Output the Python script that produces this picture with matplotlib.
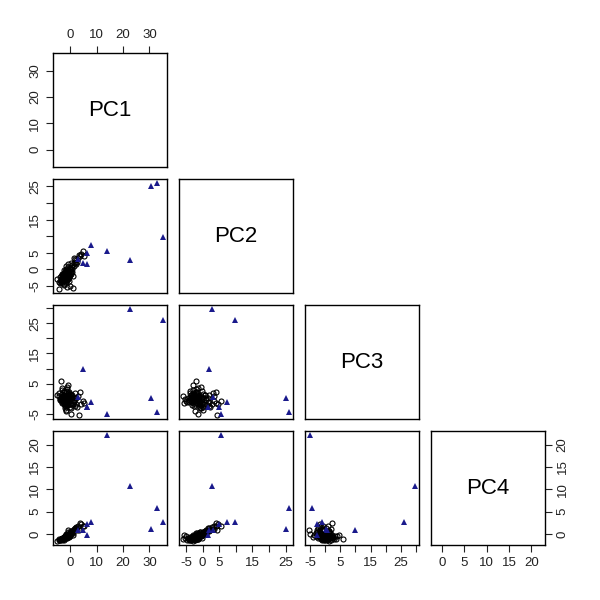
import numpy as np
import matplotlib
matplotlib.use('Agg')
import matplotlib.pyplot as plt

plt.rcParams['font.family'] = ['Liberation Sans', 'DejaVu Sans']

names = ["PC1", "PC2", "PC3", "PC4"]

# normal samples (open circles)
pc1 = [-2.1, -1.5, -3.0, -0.8, -2.5, -1.2, -3.6, -0.3, -1.9, -2.8,
       0.5, -1.0, -4.2, -2.3, -0.6, -1.7, 1.2, -3.3, -2.0, 0.1,
       -1.4, -2.7, -0.9, 2.0, -3.8, -1.1, 0.8, -2.4, -0.4, -3.1,
       0.0, 0.9, -3.5, 0.3, 3.0, 4.0, 4.8, 1.8, 2.5, -1.6,
       -2.6, -5.0, -1.3, -2.2, -0.2, 1.5, -3.2, -1.8, -0.7, -2.9,
       0.6, -1.5, -3.9, -0.5, 2.3, -2.0, -1.0, -2.6, 0.4, -1.3,
       3.5, -4.4, -1.7, 1.0, -2.3, -0.1, 5.0, 1.3, -3.0, -0.8, 3.2,
       -1.8, -2.2, -1.4, -2.9, -0.9, -1.6, -2.4, -1.1, -3.4, -0.5,
       -2.0, -1.3, -2.7, -0.2, -1.9, -3.1, -0.7, -2.5, -1.2, 0.2,
       -1.7, -2.1, -0.4, -3.7, -1.0, 1.6, 0.7, -2.8, -1.5, -0.6]
pc2 = [-2.5, -1.0, -3.2, -0.5, -1.8, -2.8, -3.5, 0.4, -2.2, -2.6,
       1.2, -1.6, -3.8, -3.0, -0.2, -1.2, 2.0, -2.9, -1.5, -0.8,
       -2.0, -3.6, 0.6, 2.8, -2.4, -3.3, 0.2, -1.1, -2.1, -4.0,
       -5.0, -5.5, -2.0, -1.3, 3.5, 4.6, 5.5, 3.0, 2.2, 0.2,
       -4.5, -3.0, -0.4, -2.7, -1.7, 0.9, -1.6, -3.9, -2.4, -2.1,
       -0.9, 1.0, -4.2, -3.5, 1.5, -0.6, -2.9, -0.2, 1.8, -5.2,
       4.0, -5.8, -2.3, -1.9, -4.8, 0.0, 3.9, 3.5, -1.3, 1.5, 4.2,
       -1.9, -2.4, -0.8, -3.1, -1.4, -2.6, -1.7, -0.3, -2.8, -1.0,
       -2.2, -3.0, -1.5, 0.1, -1.2, -3.4, -2.0, -2.7, -0.6, -0.9,
       -3.3, -1.3, -1.8, -3.7, -2.5, 1.9, 0.8, -2.2, -0.1, -1.1]
pc3 = [0.8, -1.2, 1.5, -0.3, 2.1, -0.9, 0.2, -1.8, 0.5, -0.6,
       -2.2, 1.0, 1.8, -1.5, 0.7, -2.5, -1.0, 2.8, -0.2, -3.0,
       3.2, -0.8, 1.3, -1.6, 0.0, -2.0, 0.4, -1.9, 2.3, -1.1,
       -0.7, -1.3, 6.0, -5.0, 0.9, -1.9, -0.6, 1.9, -2.8, -3.6,
       0.3, 1.2, 3.8, -2.3, 1.6, -0.4, -1.4, 2.6, -0.5, 0.9,
       -1.7, 0.1, -0.3, 1.1, 0.3, -3.2, 4.5, 2.5, 1.4, -0.1,
       2.2, 1.0, -4.2, 0.5, -1.0, -2.6, -1.5, -0.9, 3.5, -1.0, -5.3,
       -0.4, 0.6, -1.1, -0.2, 0.3, -0.7, 1.2, -1.4, 0.0, 0.8,
       -1.6, 0.4, -0.5, 1.7, -0.9, 0.5, -0.1, 1.4, -2.1, 0.2,
       -1.2, 0.9, -0.6, 0.7, 1.9, -2.4, 1.1, -0.3, -1.8, 0.1]
pc4 = [-0.6, -0.3, -0.9, 0.1, -0.7, -0.5, -1.2, 0.3, -0.4, -1.0,
       0.6, -0.2, -1.4, -0.8, 0.0, -0.3, 1.0, -1.1, -0.6, 0.2,
       -0.5, -0.9, 0.4, 1.5, -1.3, -0.7, 0.5, -0.6, -0.1, -1.0,
       -0.4, -0.2, -1.0, 0.1, 1.8, 2.2, 1.7, 1.2, 0.9, -0.2,
       -0.8, -1.5, -0.4, -0.9, 0.2, 0.8, -1.2, -0.7, -0.3, -1.1,
       0.4, 0.0, -1.3, -0.6, 1.3, -0.5, -0.3, -0.8, 0.7, -0.8,
       2.4, -1.2, -0.6, 0.2, -1.4, 0.5, 1.9, 1.1, -1.0, 0.9, 1.0,
       -0.7, -0.9, -0.4, -1.1, -0.2, -0.6, -0.8, -0.3, -1.2, 0.0,
       -0.5, -0.7, -1.0, 0.3, -0.6, -1.3, -0.4, -0.9, -0.1, 0.4,
       -0.8, -0.5, -0.2, -1.1, -0.7, 1.4, 0.6, -1.0, -0.3, 0.1]

# outlying samples (blue triangles)
out1 = [13.9, 22.6, 32.8, 35.1, 30.5, 7.9, 6.3, 6.3, 4.8, 2.8]
out2 = [5.5, 2.9, 25.9, 9.7, 25.1, 7.2, 4.8, 1.5, 2.0, 3.0]
out3 = [-5.0, 29.6, -4.3, 26.0, 0.2, -1.1, -2.6, -2.6, 10.0, 0.65]
out4 = [22.1, 10.8, 5.9, 2.7, 1.2, 2.8, 2.3, -0.15, 0.8, 1.0]

ticks = [[0, 10, 20, 30],
         [-5, 0, 5, 10, 15, 20, 25],
         [-5, 0, 5, 10, 15, 20, 25, 30],
         [0, 5, 10, 15, 20]]
labels = [["0", "10", "20", "30"],
          ["-5", "0", "5", "", "15", "", "25"],
          ["-5", "", "5", "", "15", "", "25", ""],
          ["0", "5", "10", "15", "20"]]

norm = [np.array(pc1), np.array(pc2), np.array(pc3), np.array(pc4)]
outl = [np.array(out1), np.array(out2), np.array(out3), np.array(out4)]

lims = []
for k in range(4):
    allv = np.concatenate([norm[k], outl[k]])
    lo, hi = allv.min(), allv.max()
    r = hi - lo
    lims.append((lo - 0.04 * r, hi + 0.04 * r))

fig = plt.figure(figsize=(6, 6), dpi=100)
W = 600.0
lefts = [53, 179, 305, 431]
size = 114

for i in range(4):       # row -> y variable
    for j in range(i + 1):   # column -> x variable
        ax = fig.add_axes([lefts[j] / W, 1 - (lefts[i] + size) / W, size / W, size / W])
        ax.set_xlim(lims[j])
        ax.set_ylim(lims[i])
        for s in ax.spines.values():
            s.set_linewidth(1.0)
            s.set_color('black')
        ax.tick_params(length=5, width=0.8, labelsize=9.5, pad=3.5, colors='#222222')
        ax.set_xticks(ticks[j])
        ax.set_yticks(ticks[i])
        ax.set_xticklabels(labels[j])
        ax.set_yticklabels(labels[i], rotation=90, va='center')
        ax.tick_params(bottom=False, labelbottom=False, left=False, labelleft=False)
        if i == j:
            ax.text(0.5, 0.5, names[i], transform=ax.transAxes, ha='center', va='center', fontsize=16)
        else:
            ax.plot(norm[j], norm[i], 'o', mfc='none', mec='black', ms=3.6, mew=0.8)
            ax.plot(outl[j], outl[i], '^', color='#1a1a8c', ms=4.2, mew=0)
        if i == 0 and j == 0:
            ax.tick_params(top=True, labeltop=True)
        if j == 0:
            ax.tick_params(left=True, labelleft=True)
        if i == 3:
            ax.tick_params(bottom=True, labelbottom=True)
        if i == 3 and j == 3:
            ax.tick_params(right=True, labelright=True)
            ax.set_yticklabels(labels[i], rotation=90, va='center')

fig.savefig("out.png", dpi=100)
